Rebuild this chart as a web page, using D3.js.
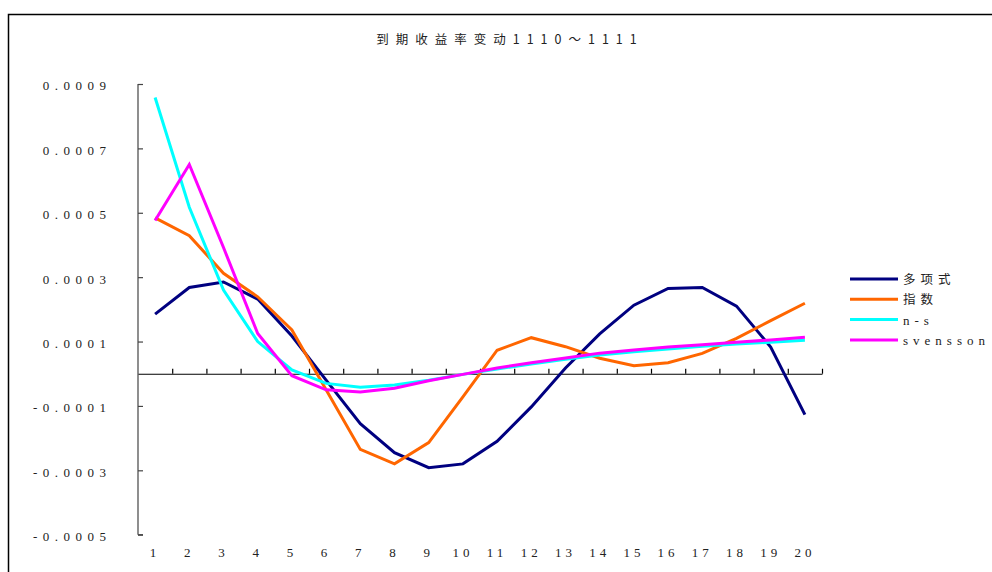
<!DOCTYPE html>
<html>
<head>
<meta charset="utf-8">
<script src="https://cdn.jsdelivr.net/npm/d3@7/dist/d3.min.js"></script>
<style>
  html, body { margin: 0; padding: 0; background: #fff; }
  svg { display: block; }
  .lbl { font-family: "Liberation Serif", "DejaVu Serif", serif; font-size: 13px; fill: #222; }
  .cjk { font-family: "Noto Sans CJK SC", "Noto Sans CJK JP", sans-serif; font-size: 12.5px; fill: #222; }
</style>
</head>
<body>
<svg id="chart" width="992" height="572"></svg>
<script>
// 关键期限 1..20
const categories = d3.range(1, 21).map(String);
const seriesNames = ["多项式", "指数", "n-s", "svensson"];
const seriesColors = ["#000080", "#FF6600", "#00FFFF", "#FF00FF"];

const polyValues = [0.000185, 0.000268, 0.000285, 0.000232, 0.000117, -0.000020, -0.000155, -0.000245, -0.000292, -0.000280,
                    -0.000210, -0.000103, 0.000018, 0.000124, 0.000213, 0.000265, 0.000268, 0.000210, 0.000083, -0.000127];
const expValues  = [0.000484, 0.000429, 0.000312, 0.000239, 0.000136, -0.000050, -0.000235, -0.000280, -0.000214, -0.000072,
                    0.000073, 0.000112, 0.000084, 0.000048, 0.000025, 0.000034, 0.000063, 0.000110, 0.000165, 0.000219];
const nsValues   = [0.000858, 0.000517, 0.000260, 0.000100, 0.000012, -0.000030, -0.000042, -0.000035, -0.000020, -0.000002,
                    0.000015, 0.000030, 0.000045, 0.000058, 0.000068, 0.000077, 0.000085, 0.000092, 0.000098, 0.000104];
const svValues   = [0.000476, 0.000650, 0.000392, 0.000125, -0.000006, -0.000050, -0.000057, -0.000045, -0.000022, -0.000002,
                    0.000018, 0.000034, 0.000049, 0.000064, 0.000074, 0.000083, 0.000090, 0.000098, 0.000105, 0.000113];
const yTickValues = [-0.0005, -0.0003, -0.0001, 0.0001, 0.0003, 0.0005, 0.0007, 0.0009];
const titleText = "到期收益率变动1110～1111";

const allSeries = [polyValues, expValues, nsValues, svValues];

const svg = d3.select("#chart");

// 外框
svg.append("rect")
  .attr("x", 8.5).attr("y", 14.5)
  .attr("width", 1000).attr("height", 600)
  .attr("fill", "none").attr("stroke", "#000").attr("stroke-width", 1.5);

const plot = { left: 138, right: 822, top: 84, bottom: 534.7 };

const x = d3.scaleBand().domain(categories).range([plot.left, plot.right]).paddingInner(0).paddingOuter(0);
const xEdge = d3.scaleLinear().domain([0, categories.length]).range([plot.left, plot.right]);
const y = d3.scaleLinear().domain([-0.0005, 0.0009]).range([plot.bottom, plot.top]);
const cx = c => x(c) + x.bandwidth() / 2;

// 标题
svg.append("text")
  .attr("class", "cjk")
  .attr("x", 510).attr("y", 44)
  .attr("text-anchor", "middle")
  .style("letter-spacing", "7px")
  .text(titleText);

// 纵轴
const fmt = v => (v < 0 ? "-" : "") + Math.abs(v).toFixed(4);
const yAxis = svg.append("g")
  .attr("transform", `translate(${plot.left},0)`)
  .call(d3.axisLeft(y).tickValues(yTickValues).tickSizeInner(-5).tickSizeOuter(0).tickPadding(26.5).tickFormat(fmt));
yAxis.select(".domain").attr("stroke", "#444").attr("stroke-width", 1.2)
  .attr("d", `M0,${plot.top}V${plot.bottom}`);
yAxis.selectAll(".tick line").attr("stroke", "#444").attr("stroke-width", 1.2);
// 底部刻度
yAxis.append("line").attr("x1", 0).attr("x2", 5)
  .attr("y1", y(-0.0005)).attr("y2", y(-0.0005))
  .attr("stroke", "#444").attr("stroke-width", 1.2);
yAxis.selectAll(".tick text")
  .attr("class", "lbl")
  .attr("dy", "0.45em")
  .style("letter-spacing", "5.5px")
  .style("font-size", "13px")
  .attr("fill", "#222");

// 横轴（零线）及分类刻度
const xAxis = svg.append("g")
  .attr("transform", `translate(0,${y(0)})`)
  .call(d3.axisBottom(xEdge).tickValues(d3.range(1, categories.length + 1)).tickSizeInner(-5).tickSizeOuter(0).tickFormat(""));
xAxis.select(".domain").attr("stroke", "#000").attr("stroke-width", 1.2);
xAxis.selectAll(".tick line").attr("stroke", "#000").attr("stroke-width", 1.2);

// 分类标签
const xLabels = svg.append("g")
  .attr("transform", `translate(0,548)`)
  .call(d3.axisBottom(x).tickSize(0).tickPadding(0));
xLabels.select(".domain").remove();
xLabels.selectAll(".tick text")
  .attr("class", "lbl")
  .attr("dy", "0.71em")
  .style("letter-spacing", "4px")
  .style("font-size", "13px")
  .attr("fill", "#222");

// 折线
const line = d3.line()
  .x((d, i) => cx(categories[i]))
  .y(d => y(d));

allSeries.forEach((vals, k) => {
  svg.append("path")
    .datum(vals)
    .attr("fill", "none")
    .attr("stroke", seriesColors[k])
    .attr("stroke-width", 3)
    .attr("stroke-linejoin", "miter")
    .attr("d", line);
});

// 图例
const legend = svg.append("g").attr("transform", "translate(850,279)");
seriesNames.forEach((name, k) => {
  const g = legend.append("g").attr("transform", `translate(0,${k * 20.3})`);
  g.append("line").attr("x1", 0).attr("x2", 48).attr("y1", 0).attr("y2", 0)
    .attr("stroke", seriesColors[k]).attr("stroke-width", 3);
  const isCjk = /[\u4e00-\u9fff]/.test(name);
  g.append("text")
    .attr("class", isCjk ? "cjk" : "lbl")
    .attr("x", 53).attr("y", 0).attr("dy", "0.38em")
    .style("letter-spacing", "5px")
    .text(name);
});
</script>
</body>
</html>
